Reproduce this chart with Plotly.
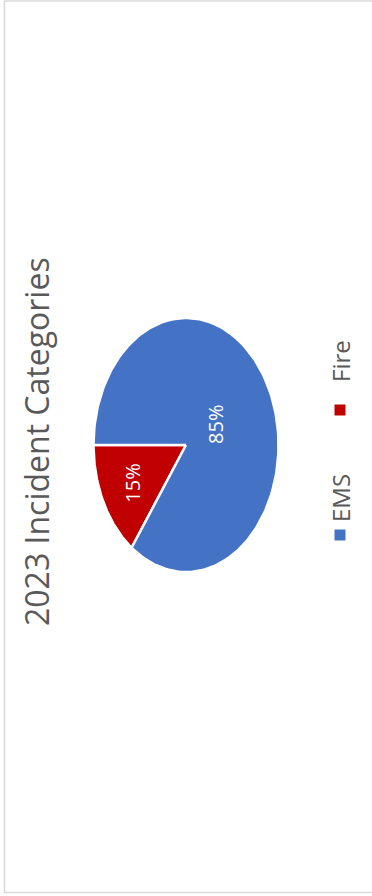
import numpy as np
import plotly.graph_objects as go

title = "2023 Incident Categories"
categories = ["EMS", "Fire"]
values = [85, 15]
colors = ["#4472C4", "#C00000"]

W, H = 372, 896
cx, cy, a, b = 186, 445, 92.5, 127
start_deg = 180  # Fire starts pointing left, goes counter-clockwise

fig = go.Figure()

total = sum(values)
order = [1, 0]
ang = start_deg
label_r = {0: 0.36, 1: 0.66}
for idx in order:
    span = values[idx] / total * 360
    t = np.radians(np.linspace(ang, ang + span, 200))
    xs = np.concatenate([[cx], cx + a * np.cos(t), [cx]])
    ys = np.concatenate([[cy], cy - b * np.sin(t), [cy]])
    fig.add_trace(go.Scatter(x=xs, y=ys, fill="toself", fillcolor=colors[idx],
                             mode="lines", line=dict(color="white", width=2.5),
                             name=categories[idx], showlegend=False, hoverinfo="name"))
    mid = np.radians(ang + span / 2)
    r = label_r[idx]
    fig.add_annotation(x=cx + a * r * np.cos(mid), y=cy - b * r * np.sin(mid),
                       text=f"{values[idx]}%", textangle=-90, showarrow=False,
                       font=dict(color="white", size=20, family="Open Sans"))
    ang += span

# title
fig.add_annotation(x=36, y=442, text=title, textangle=-90, showarrow=False,
                   font=dict(color="#595959", size=32, family="Open Sans"))

# legend
leg_sq = {0: 535, 1: 410}
leg_txt = {0: 498, 1: 361}
for i, c in enumerate(categories):
    fig.add_trace(go.Scatter(x=[340], y=[leg_sq[i]], mode="markers",
                             marker=dict(symbol="square", size=11, color=colors[i]),
                             showlegend=False, hoverinfo="skip"))
    fig.add_annotation(x=340, y=leg_txt[i], text=c, textangle=-90, showarrow=False,
                       font=dict(color="#595959", size=24, family="Open Sans"))

fig.add_shape(type="rect", xref="paper", yref="paper", x0=0.012, x1=1.01, y0=0.004, y1=0.999,
              line=dict(color="#D9D9D9", width=1.5))

fig.update_layout(width=W, height=H, margin=dict(l=0, r=0, t=0, b=0),
                  paper_bgcolor="white", plot_bgcolor="white",
                  xaxis=dict(range=[0, W], visible=False, fixedrange=True),
                  yaxis=dict(range=[H, 0], visible=False, fixedrange=True))

fig.write_html("out.html", config={"displayModeBar": False},
               post_script="document.body.style.margin='0';document.body.style.overflow='hidden';")
